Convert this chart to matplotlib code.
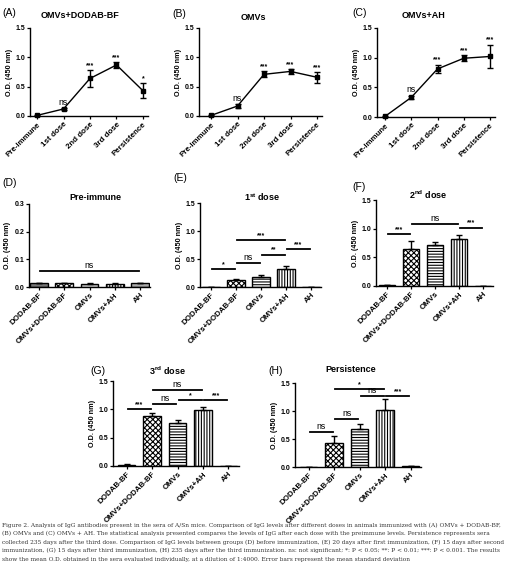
import matplotlib
matplotlib.use("Agg")
import matplotlib.pyplot as plt

plt.rcParams["font.family"] = ["Liberation Sans", "DejaVu Sans"]
plt.rcParams["mathtext.fontset"] = "custom"
plt.rcParams["mathtext.rm"] = "Liberation Sans:bold"
plt.rcParams["mathtext.bf"] = "Liberation Sans:bold"
plt.rcParams["hatch.linewidth"] = 0.8

W, H = 507, 577

doses = ["Pre-immune", "1st dose", "2nd dose", "3rd dose", "Persistence"]
groups = ["DODAB-BF", "OMVs+DODAB-BF", "OMVs", "OMVs+AH", "AH"]

# (A)-(C): IgG over doses
a_mean = [0.01, 0.12, 0.64, 0.87, 0.43]
a_err = [0.005, 0.02, 0.14, 0.05, 0.13]
a_sig = ["", "ns", "***", "***", "*"]

b_mean = [0.01, 0.17, 0.71, 0.76, 0.66]
b_err = [0.005, 0.03, 0.05, 0.04, 0.09]
b_sig = ["", "ns", "***", "***", "***"]

c_mean = [0.01, 0.33, 0.81, 0.99, 1.02]
c_err = [0.005, 0.03, 0.07, 0.05, 0.20]
c_sig = ["", "ns", "***", "***", "***"]

# (D)-(H): groups compared at each time point
d_mean = [0.013, 0.013, 0.012, 0.012, 0.013]
d_err = [0.003, 0.002, 0.002, 0.002, 0.003]
d_cmp = [(0, 4, 0.058, "ns")]

e_mean = [0.0, 0.12, 0.18, 0.33, 0.0]
e_err = [0.0, 0.02, 0.03, 0.04, 0.0]
e_cmp = [(0, 1, 0.32, "*"), (1, 2, 0.43, "ns"), (2, 3, 0.58, "**"),
         (3, 4, 0.67, "***"), (1, 3, 0.84, "***")]

f_mean = [0.01, 0.65, 0.72, 0.82, 0.005]
f_err = [0.003, 0.13, 0.04, 0.07, 0.002]
f_cmp = [(0, 1, 0.91, "***"), (1, 3, 1.09, "ns"), (3, 4, 1.02, "***")]

g_mean = [0.02, 0.89, 0.76, 0.99, 0.005]
g_err = [0.01, 0.05, 0.05, 0.06, 0.002]
g_cmp = [(0, 1, 1.00, "***"), (1, 2, 1.10, "ns"), (2, 3, 1.17, "*"),
         (3, 4, 1.17, "***"), (1, 3, 1.35, "ns")]

h_mean = [0.005, 0.43, 0.67, 1.02, 0.02]
h_err = [0.002, 0.13, 0.09, 0.20, 0.005]
h_cmp = [(0, 1, 0.62, "ns"), (1, 2, 0.86, "ns"), (2, 3, 1.27, "ns"),
         (3, 4, 1.27, "***"), (1, 3, 1.39, "*")]

caption = [
    "Figure 2. Analysis of IgG antibodies present in the sera of A/Sn mice. Comparison of IgG levels after different doses in animals immunized with (A) OMVs + DODAB-BF,",
    "(B) OMVs and (C) OMVs + AH. The statistical analysis presented compares the levels of IgG after each dose with the preimmune levels. Persistence represents sera",
    "collected 235 days after the third dose. Comparison of IgG levels between groups (D) before immunization, (E) 20 days after first immunization, (F) 15 days after second",
    "immunization, (G) 15 days after third immunization, (H) 235 days after the third immunization. ns: not significant; *: P < 0.05; **: P < 0.01; ***: P < 0.001. The results",
    "show the mean O.D. obtained in the sera evaluated individually, at a dilution of 1:4000. Error bars represent the mean standard deviation",
]

bar_fill = ["#777777", "white", "white", "white", "#aaaaaa"]
bar_hatch = [None, "xxxxxx", "------", "||||||", None]

fig = plt.figure(figsize=(W / 100, H / 100), dpi=100)


def px_axes(spine, first, last, right, top, bottom, n=5):
    ax = fig.add_axes([spine / W, 1 - bottom / H, (right - spine) / W, (bottom - top) / H])
    unit = (last - first) / (n - 1)
    ax.set_xlim((spine - first) / unit, (right - first) / unit)
    return ax


def style(ax, ymax, yticks, labels):
    for s in ["top", "right"]:
        ax.spines[s].set_visible(False)
    for s in ["left", "bottom"]:
        ax.spines[s].set_linewidth(1.0)
    ax.set_ylim(0, ymax)
    ax.set_yticks(yticks)
    ax.set_yticklabels([f"{t:.1f}" for t in yticks], fontsize=5, fontweight="bold")
    ax.set_xticks(range(len(labels)))
    ax.set_xticklabels(labels, rotation=45, ha="right", rotation_mode="anchor",
                       fontsize=5.7, fontweight="bold")
    ax.tick_params(length=2, width=0.9, pad=1.5)
    ax.set_ylabel("O.D. (450 nm)", fontsize=5.2, fontweight="bold", labelpad=2)


def sig_text(ax, x, y, label):
    if label == "ns":
        ax.text(x, y, label, ha="center", va="bottom", fontsize=6.3)
    else:
        ax.text(x, y, label, ha="center", va="bottom", fontsize=5, fontweight="bold")


def line_panel(ax, mean, err, sig):
    ax.errorbar(range(5), mean, yerr=err, color="black", marker="s", markersize=3.2,
                lw=1, elinewidth=1, capsize=2.5, capthick=1, clip_on=False, zorder=3)
    for i, s in enumerate(sig):
        if s:
            sig_text(ax, i, mean[i] + err[i] + 0.02, s)
    style(ax, 1.5, [0, 0.5, 1.0, 1.5], doses)


def bar_panel(ax, mean, err, cmp, ymax, yticks):
    for i in range(5):
        ax.bar(i, mean[i], width=0.7, color=bar_fill[i], edgecolor="black",
               linewidth=1.0, hatch=bar_hatch[i], zorder=2)
    ax.errorbar(range(5), mean, yerr=[[0] * 5, err], fmt="none", ecolor="black",
                elinewidth=1.0, capsize=2.5, capthick=1.0, zorder=3)
    for i, j, y, label in cmp:
        ax.plot([i + 0.05, j - 0.05], [y, y], color="black", lw=1.3, clip_on=False)
        sig_text(ax, (i + j) / 2, y + ymax * 0.01, label)
    style(ax, ymax, yticks, groups)


def title(x, y, s):
    fig.text(x / W, 1 - y / H, s, ha="center", va="center", fontsize=6.5, fontweight="bold")


def panel_label(x, y, s):
    fig.text(x / W, 1 - y / H, s, ha="left", va="center", fontsize=7.5)


# row 1
ax = px_axes(30, 37, 143, 148, 28, 116)
line_panel(ax, a_mean, a_err, a_sig)
ax = px_axes(199, 211, 317, 322, 28, 116)
line_panel(ax, b_mean, b_err, b_sig)
ax = px_axes(377, 385, 490, 495, 28, 117)
line_panel(ax, c_mean, c_err, c_sig)

# row 2
ax = px_axes(29, 39, 140, 150, 204, 287)
bar_panel(ax, d_mean, d_err, d_cmp, 0.3, [0, 0.1, 0.2, 0.3])
ax = px_axes(200, 211, 311, 321, 203, 287)
bar_panel(ax, e_mean, e_err, e_cmp, 1.5, [0, 0.5, 1.0, 1.5])
ax = px_axes(376, 387, 483, 493, 200, 286)
bar_panel(ax, f_mean, f_err, f_cmp, 1.5, [0, 0.5, 1.0, 1.5])

# row 3
ax = px_axes(113, 126.5, 228.5, 239, 381, 466)
bar_panel(ax, g_mean, g_err, g_cmp, 1.5, [0, 0.5, 1.0, 1.5])
ax = px_axes(295, 308.5, 410.5, 421, 383, 467)
bar_panel(ax, h_mean, h_err, h_cmp, 1.5, [0, 0.5, 1.0, 1.5])

title(80, 15, "OMVs+DODAB-BF")
title(253, 17, "OMVs")
title(423, 16, "OMVs+AH")
title(95, 198, "Pre-immune")
title(262, 197, r"1$^{\mathrm{st}}$ dose")
title(428, 195, r"2$^{\mathrm{nd}}$ dose")
title(167, 371, r"3$^{\mathrm{rd}}$ dose")
title(351, 370, "Persistence")

panel_label(2, 13, "(A)")
panel_label(172, 14, "(B)")
panel_label(352, 13, "(C)")
panel_label(2, 183, "(D)")
panel_label(173, 178, "(E)")
panel_label(352, 187, "(F)")
panel_label(90, 371, "(G)")
panel_label(268, 371, "(H)")

# caption, sized so the first line spans the page width
cap_y = [525, 533.5, 542, 550.5, 559]
texts = [fig.text(2 / W, 1 - y / H, line, ha="left", va="center", fontsize=5,
                  family="DejaVu Serif", color="#333333")
         for line, y in zip(caption, cap_y)]
renderer = fig.canvas.get_renderer()
width = texts[0].get_window_extent(renderer).width
fs = 5 * 503 / width
for t in texts:
    t.set_fontsize(fs)

fig.savefig("out.png", dpi=100)
